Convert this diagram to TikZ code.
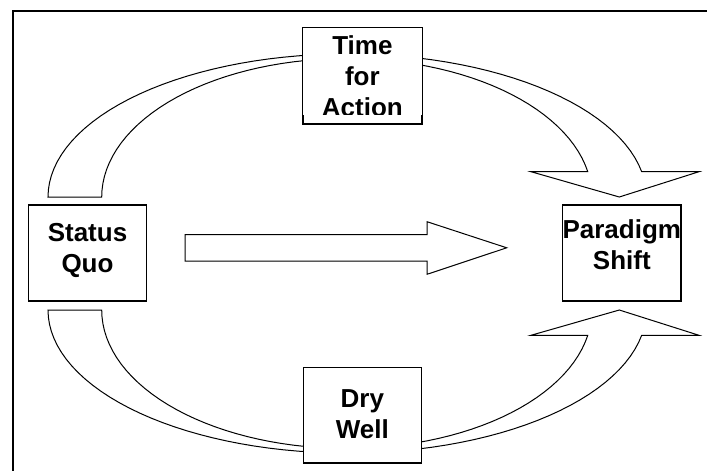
\documentclass[tikz,border=0pt]{standalone}
\usepackage{fontspec}
\setmainfont{Liberation Sans}
\usetikzlibrary{positioning,calc}

\tikzset{
  box/.style={draw, fill=white, line width=1.3pt, minimum width=118.5pt,
              minimum height=96pt, inner sep=0pt, align=center,
              font=\fontsize{26}{31}\selectfont\bfseries, text height=49pt},
  band/.style={draw, fill=white, line width=1pt, line join=miter},
  frame/.style={line width=2pt}
}

\begin{document}
\begin{tikzpicture}[x=1pt,y=-1pt]
  \useasboundingbox (0,0) rectangle (707,471);
  \draw[frame] (707,10.5) -- (13,10.5) -- (13,471);

  % curved arrows, behind the boxes
  \draw[band] plot[domain=180:10.18,samples=60] ({347.2+299.2*cos(\x)},{197-143.1*sin(\x)})
    -- (699,171.7) -- (619.3,197) -- (531,171.7)
    -- plot[domain=10.52:180,samples=60] ({346.8+245.1*cos(\x)},{197-138.5*sin(\x)}) -- cycle;
  \draw[band] plot[domain=180:10.18,samples=60] ({347.2+299.2*cos(\x)},{310+143.1*sin(\x)})
    -- (699,335.3) -- (619.3,310) -- (531,335.3)
    -- plot[domain=10.52:180,samples=60] ({346.8+245.1*cos(\x)},{310+138.5*sin(\x)}) -- cycle;

  % straight arrow
  \draw[band] (185,234.7) -- (427,234.7) -- (427,221.7) -- (506.7,247.8)
    -- (427,274.3) -- (427,261) -- (185,261) -- cycle;

  \node[box, text depth=11pt] (sq) at (87.5,253) {Status\\Quo};
  \node[box, text depth=17pt] (ps) at (621.8,253) {Paradigm\\Shift};
  \node[box, text depth=3.6pt, minimum height=95.3pt] (dw) at (362.4,415.3) {Dry\\Well};
  \node[box] (act) at (362.4,76) {};
  \begin{scope}
    \clip (act.north west) rectangle ([yshift=10pt]act.south east);
    \node[box, draw=none, text height=92pt, text depth=12pt] (acttxt) at (act) {Time\\for\\Action};
  \end{scope}
  \draw[line width=1.3pt] (act.north west) rectangle (act.south east);
\end{tikzpicture}
\end{document}
